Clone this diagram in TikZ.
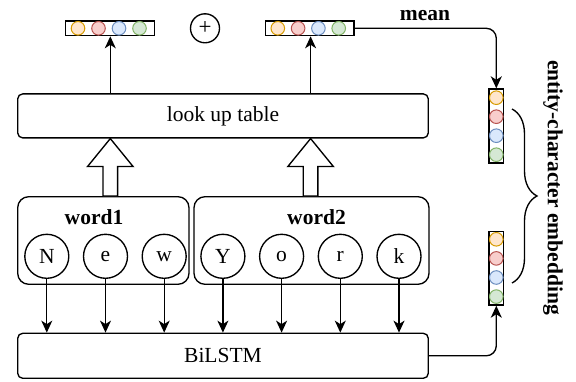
\documentclass[tikz,border=0pt]{standalone}
\usepackage{fontspec}
\setmainfont{Liberation Serif}
\usetikzlibrary{arrows.meta,calc,decorations.pathreplacing}

\definecolor{orF}{HTML}{FFE6CC}\definecolor{orD}{HTML}{D79B00}
\definecolor{rdF}{HTML}{F8CECC}\definecolor{rdD}{HTML}{B85450}
\definecolor{blF}{HTML}{DAE8FC}\definecolor{blD}{HTML}{6C8EBF}
\definecolor{gnF}{HTML}{D5E8D4}\definecolor{gnD}{HTML}{82B366}

\begin{document}
\begin{tikzpicture}[x=1pt,y=1pt,line width=1.35pt,
  font=\fontsize{21.5}{25}\selectfont,
  box/.style={draw, rounded corners=5pt, minimum width=410.6pt, minimum height=44pt, inner sep=0pt},
  wordbox/.style={draw, rounded corners=11pt, minimum height=87.6pt, inner sep=0pt},
  chr/.style={draw, circle, minimum size=44pt, inner sep=0pt},
  cell/.style={circle, draw=#1D, fill=#1F, minimum size=13.6pt, inner sep=0pt, line width=1pt},
  vec/.style={draw, inner sep=0pt, fill=white},
  arr/.style={-{Stealth[length=12pt,width=11pt,inset=3.5pt]}},
  hollow/.style={draw, fill=white, line join=miter},
  lbl/.style={font=\bfseries\fontsize{21.5}{25}\selectfont, inner sep=0pt}
]
\useasboundingbox (0,0) rectangle (576,-382);

% main blocks
\node[box] (look) at (223,-115.9) {look up table};
\node[box, minimum height=45pt] (lstm) at (223,-355.8) {BiLSTM};
\node[wordbox, minimum width=171.3pt] (w1) at (103.35,-240.5) {};
\node[wordbox, minimum width=235pt] (w2) at (311.5,-240.5) {};
\node[lbl] (w1lbl) at (94,-217) {word1};
\node[lbl] (w2lbl) at (316.5,-217) {word2};

% character circles
\foreach \c/\t [count=\i from 0] in {cN/N,ce/e,cw/w,cY/Y,co/o,cr/r,ck/k}{
  \node[chr] (\c) at (46.8+58.7*\i,-256.3) {\t};
  \draw[arr] (\c.south) -- (\c.south |- lstm.north);
}

% horizontal embedding vectors
\node[vec, minimum width=88.6pt, minimum height=14.7pt] (vL) at (110,-28.3) {};
\node[vec, minimum width=88.3pt, minimum height=14.7pt] (vR) at (309.9,-28.3) {};
\foreach \k/\col [count=\i from 0] in {1/or,2/rd,3/bl,4/gn}{
  \node[cell=\col] (vL\k) at (78+20.5*\i,-28.3) {};
  \node[cell=\col] (vR\k) at (277.8+20.3*\i,-28.3) {};
}
\node[draw, circle, minimum size=29pt, inner sep=0pt, font=\fontsize{23}{23}\selectfont] (plus) at (205,-28.3) {+};

% vertical embedding vectors
\node[vec, minimum width=14.7pt, minimum height=74pt] (vA) at (496.3,-126) {};
\node[vec, minimum width=14.7pt, minimum height=73.3pt] (vB) at (496.3,-268.4) {};
\foreach \k/\col [count=\i from 0] in {1/or,2/rd,3/bl,4/gn}{
  \node[cell=\col] (vA\k) at (496.3,-97.7-19*\i) {};
  \node[cell=\col] (vB\k) at (496.3,-239.3-19.1*\i) {};
}

% lookup outputs
\coordinate (aL) at (110.3,0);
\coordinate (aR) at (310.6,0);
\draw[arr] (aL |- look.north) -- (aL |- vL.south);
\draw[arr] (aR |- look.north) -- (aR |- vR.south);

% hollow block arrows from the words into the lookup table
\foreach \a/\w in {aL/w1,aR/w2}{
  \draw[hollow] let \p1=(\a |- \w.north), \p2=(\a |- look.south) in
    (\x1-7.3pt,\y1) -- (\x1-7.3pt,\y2-28pt) -- (\x1-22.8pt,\y2-28pt) -- (\p2)
    -- (\x1+22.8pt,\y2-28pt) -- (\x1+7.3pt,\y2-28pt) -- (\x1+7.3pt,\y1) -- cycle;
}

% routes to the entity-character vectors
\draw[arr, rounded corners=10pt] (vR.east) -| (vA.north);
\node[lbl] (mean) at (425,-16) {mean};
\draw[arr, rounded corners=10pt] (lstm.east) -| (vB.south);

% brace and caption
\coordinate (brT) at (512,-109);
\coordinate (brB) at (512,-283);
\draw[decorate, decoration={brace, amplitude=25pt}] (brT) -- (brB);
\node[lbl, rotate=-90] (cap) at (553,-187.5) {entity-character embedding};
\end{tikzpicture}
\end{document}
